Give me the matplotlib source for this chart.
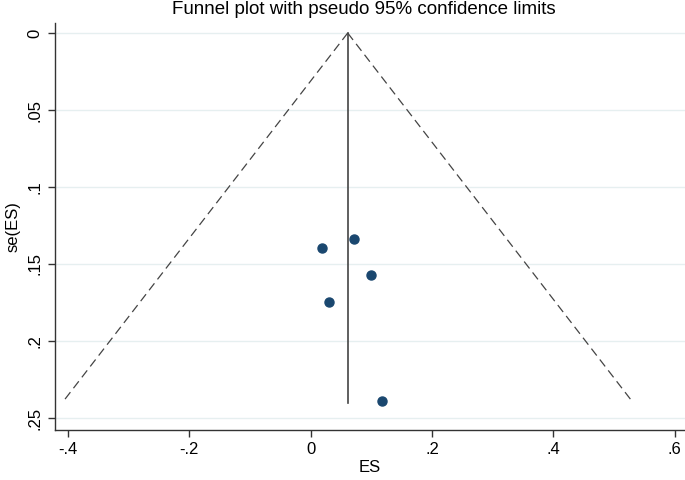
import matplotlib
matplotlib.use("Agg")
import matplotlib.pyplot as plt
import numpy as np

plt.rcParams['font.family'] = ['Liberation Sans', 'DejaVu Sans']

# Data
es = [0.018, 0.071, 0.099, 0.030, 0.117]
se = [0.1396, 0.1336, 0.157, 0.175, 0.239]
pooled = 0.061
se_max = 0.24
x_ticks = [-0.4, -0.2, 0.0, 0.2, 0.4, 0.6]
x_tick_labels = ["-.4", "-.2", "0", ".2", ".4", ".6"]
y_ticks = [0.0, 0.05, 0.10, 0.15, 0.20, 0.25]
y_tick_labels = ["0", ".05", ".1", ".15", ".2", ".25"]
title = "Funnel plot with pseudo 95% confidence limits"

fig = plt.figure(figsize=(6.85, 4.8), dpi=100)
ax = fig.add_axes([55/685, 1 - 430/480, 630/685, (430 - 23)/480])

# gridlines
for yt in y_ticks:
    ax.axhline(yt, color='#e6eff0', lw=1.0, zorder=0)

# funnel
se_line = np.array([0.0, se_max])
ax.plot(pooled - 1.96 * se_line, se_line, color='#444444', lw=0.9,
        dashes=(7, 4), zorder=2)
ax.plot(pooled + 1.96 * se_line, se_line, color='#444444', lw=0.9,
        dashes=(7, 4), zorder=2)
ax.plot([pooled, pooled], [0.0, se_max], color='#444444', lw=1.2, zorder=2)

# points
ax.plot(es, se, 'o', color='#1a476f', ms=6.5, mec='#1a476f', zorder=3)

ax.set_xlim(-0.4215, 0.617)
ax.set_ylim(0.2578, -0.0065)

ax.set_xticks(x_ticks)
ax.set_xticklabels(x_tick_labels, fontsize=12)
ax.set_yticks(y_ticks)
ax.set_yticklabels(y_tick_labels, fontsize=12, rotation=90, va='center')

ax.spines['top'].set_visible(False)
ax.spines['right'].set_visible(False)
for s in ['left', 'bottom']:
    ax.spines[s].set_color('#333333')
    ax.spines[s].set_linewidth(1.0)
ax.tick_params(axis='both', direction='out', length=5, width=1.0,
               color='#333333', pad=4)

ax.set_xlabel("ES", fontsize=12, labelpad=2)
ax.set_ylabel("se(ES)", fontsize=12, labelpad=5)

fig.text(364/685, 1 - 9/480, title,
         ha='center', va='center', fontsize=13.5)

fig.savefig("out.png", dpi=100)
